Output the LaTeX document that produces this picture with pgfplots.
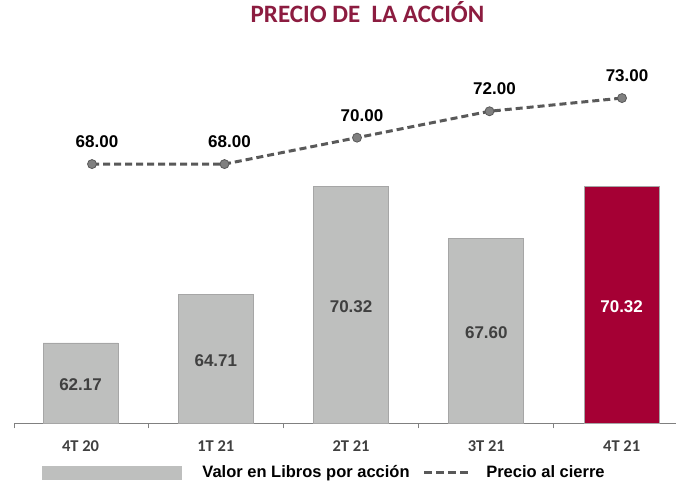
\documentclass[border=0pt]{standalone}
\usepackage{fontspec}
\setmainfont{Liberation Sans}
\newfontfamily\calibri{Carlito}
\usepackage{pgfplots}
\pgfplotsset{compat=1.18}
\usepackage{pgfplotstable}
\definecolor{barGray}{RGB}{190,191,190}
\definecolor{barEdge}{RGB}{166,166,166}
\definecolor{maroon}{RGB}{165,0,52}
\definecolor{titleRed}{RGB}{140,28,64}
\definecolor{lineGray}{RGB}{89,89,89}
\definecolor{markGray}{RGB}{128,128,128}
\definecolor{labelGray}{RGB}{64,64,64}
\definecolor{axisGray}{RGB}{128,128,128}

\pgfplotstableread{
x v
0 62.17
1 64.71
2 70.32
3 67.60
}\grayBars
\pgfplotstableread{
x v
4 70.32
}\redBars
\pgfplotstableread{
x p
0 68
1 68
2 70
3 72
4 73
}\precio

\begin{document}
\begin{tikzpicture}
\path[use as bounding box] (0,0) rectangle (676pt,483pt);
\begin{axis}[
  at={(14pt,59.7pt)}, anchor=south west,
  scale only axis, width=662pt, height=383.3pt,
  xmin=-0.492, xmax=4.402, ymin=58, ymax=77.9,
  axis x line=bottom, axis y line=none,
  x axis line style={-, draw=axisGray, line width=1pt},
  xtick={0,1,2,3,4},
  xticklabels={4T 20,1T 21,2T 21,3T 21,4T 21},
  minor xtick={-0.49,0.5,1.5,2.5,3.5},
  major tick length=0pt, minor tick length=5pt, tick align=outside,
  minor tick style={draw=axisGray, line width=1pt},
  xticklabel style={font=\calibri\bfseries\fontsize{16.5}{16.5}\selectfont, text=labelGray, anchor=base, yshift=-27.7pt, inner sep=0pt},
  title={PRECIO DE\ \ LA ACCIÓN},
  title style={font=\calibri\bfseries\fontsize{25}{25}\selectfont, text=titleRed, at={(axis description cs:0.534,1)}, anchor=base, yshift=11.7pt, inner sep=0pt},
  /pgf/number format/assume math mode=true,
  legend style={at={(axis description cs:0.0423,-0.1284)}, anchor=west, draw=none, fill=none, inner sep=0pt, outer sep=0pt,
    font=\bfseries\fontsize{16.5}{16.5}\selectfont, nodes={inner sep=0pt},
    /tikz/every even column/.append style={column sep=13pt}},
  legend columns=2, legend cell align=left,
]
\addplot[ybar, bar width=75pt, bar shift=0pt, fill=barGray, draw=barEdge, line width=0.75pt, forget plot] table[x=x,y=v]{\grayBars};
\addplot[ybar, bar width=75pt, bar shift=0pt, fill=maroon, draw=barEdge, line width=0.75pt, forget plot] table[x=x,y=v]{\redBars};
\addplot[draw=none, mark=none, forget plot,
  nodes near coords={\pgfmathprintnumber[fixed,fixed zerofill,precision=2]{\pgfplotspointmeta}},
  point meta=\thisrow{v},
  every node near coord/.append style={anchor=center, inner sep=0pt, yshift=-1.5pt, text=labelGray, font=\bfseries\fontsize{17}{17}\selectfont}]
  table[x=x, y expr={(\thisrow{v}+58)/2}]{\grayBars};
\addplot[draw=none, mark=none, forget plot,
  nodes near coords={\pgfmathprintnumber[fixed,fixed zerofill,precision=2]{\pgfplotspointmeta}},
  point meta=\thisrow{v},
  every node near coord/.append style={anchor=center, inner sep=0pt, yshift=-1.5pt, text=white, font=\bfseries\fontsize{17}{17}\selectfont}]
  table[x=x, y expr={(\thisrow{v}+58)/2}]{\redBars};
\addlegendimage{legend image code/.code={\fill[barGray] (0pt,-6.5pt) rectangle (139pt,6.5pt); \path (160pt,0pt);}}
\addlegendentry{Valor en Libros por acción}
\addlegendimage{legend image code/.code={\draw[lineGray, line width=3pt, dash pattern=on 8pt off 4pt] (0pt,0pt) -- (47pt,0pt); \path (62pt,0pt);}}
\addlegendentry{Precio al cierre}
\end{axis}
\begin{axis}[
  at={(14pt,59.7pt)}, anchor=south west,
  scale only axis, width=662pt, height=383.3pt,
  hide axis, clip=false,
  xmin=-0.5887, xmax=4.4075, ymin=48.36, ymax=77.40,
  /pgf/number format/assume math mode=true,
]
\addplot[lineGray, line width=3pt, dash pattern=on 7pt off 4pt,
  mark=*, mark size=4.5pt, mark options={solid, fill=markGray, draw=lineGray, line width=0.8pt},
  nodes near coords={\pgfmathprintnumber[fixed,fixed zerofill,precision=2]{\pgfplotspointmeta}},
  point meta=y,
  every node near coord/.append style={anchor=south, inner sep=0pt, yshift=16pt, xshift=5pt, text=black, font=\bfseries\fontsize{17}{17}\selectfont}]
  table[x=x,y=p]{\precio};
\end{axis}
\end{tikzpicture}
\end{document}
